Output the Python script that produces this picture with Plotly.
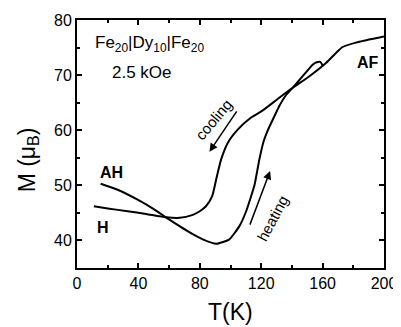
import plotly.graph_objects as go

# Cooling curve (ends in state "H")
cool_T = [11, 20, 33, 45, 58, 67, 75, 80, 84, 88, 90.7, 93.9, 98.2, 104.7, 113.4, 121,
          131.8, 140.5, 151.4, 162.2, 168.7, 173, 181.7, 200]
cool_M = [46.2, 45.8, 45.3, 44.8, 44.2, 44.1, 44.6, 45.3, 46.2, 48.0, 51.1, 54.7, 57.7, 60.1,
          62.3, 63.6, 65.9, 67.7, 69.8, 72.2, 74.0, 75.1, 75.9, 77.0]

# Heating curve (starts from state "AH")
heat_T = [15.4, 26.5, 39.5, 50, 57.9, 65, 72, 82, 90.7, 99.3, 105.8, 110.2, 115.6, 118.8,
          121.6, 124, 127.5, 131.8, 136, 140.5, 147, 153.5, 155.7, 158.5, 160.3]
heat_M = [50.3, 49.2, 47.4, 45.7, 44.2, 42.9, 41.7, 40.2, 39.4, 40.2, 42.6, 45.3, 50.0, 54.7,
          58.0, 59.8, 61.9, 64.4, 66.3, 67.7, 69.8, 71.9, 72.3, 72.4, 71.6]

x_ticks = [0, 40, 80, 120, 160, 200]
y_ticks = [40, 50, 60, 70, 80]

FONT = "Arial, Liberation Sans, sans-serif"

fig = go.Figure()
fig.add_trace(go.Scatter(x=cool_T, y=cool_M, mode="lines",
                         line=dict(color="black", width=2, shape="spline", smoothing=0.6),
                         showlegend=False))
fig.add_trace(go.Scatter(x=heat_T, y=heat_M, mode="lines",
                         line=dict(color="black", width=2, shape="spline", smoothing=0.4),
                         showlegend=False))

axis_common = dict(showline=True, linecolor="black", linewidth=2, mirror="ticks",
                   ticks="inside", ticklen=5, tickwidth=1.5, tickcolor="black",
                   showgrid=False, zeroline=False, automargin=False,
                   tickfont=dict(family=FONT, size=16, color="black"))

fig.update_xaxes(range=[0, 200], tickvals=x_ticks, ticktext=[str(v) for v in x_ticks],
                 minor=dict(dtick=20, tick0=0, ticks="inside", ticklen=3, tickwidth=1.5,
                            tickcolor="black"),
                 **axis_common)
fig.update_yaxes(range=[35, 80], tickvals=y_ticks, ticktext=[str(v) for v in y_ticks],
                 minor=dict(dtick=5, tick0=35, ticks="inside", ticklen=3, tickwidth=1.5,
                            tickcolor="black"),
                 **axis_common)

ann = []
def txt(x, y, s, size=16, angle=0, xanchor="center", bold=False, ref="data"):
    if bold:
        s = "<b>" + s + "</b>"
    d = dict(x=x, y=y, text=s, showarrow=False, textangle=angle, xanchor=xanchor,
             yanchor="middle", font=dict(family=FONT, size=size, color="black"))
    if ref == "paper":
        d.update(xref="paper", yref="paper")
    else:
        d.update(xref="x", yref="y")
    ann.append(d)

txt(10.3, 75.6, "Fe<sub>20</sub>|Dy<sub>10</sub>|Fe<sub>20</sub>", size=17, xanchor="left")
txt(42.4, 70.5, "2.5 kOe", size=17)
txt(22.3, 52.3, "AH", size=16, bold=True)
txt(17, 42.3, "H", size=16, bold=True)
txt(189.4, 72.3, "AF", size=16, bold=True)
txt(89, 61.9, "cooling", size=15, angle=-50)
txt(127.3, 44.0, "heating", size=15, angle=-62)
txt(-0.158, 0.436, "M (μ<sub>B</sub>)", size=23, angle=-90, ref="paper")
txt(0.5, -0.178, "T(K)", size=23, ref="paper")

# arrows
for (tx, ty, hx, hy) in [(104.7, 63.7, 86.3, 56.1), (112.3, 42.6, 125.8, 52.6)]:
    ann.append(dict(x=hx, y=hy, ax=tx, ay=ty, xref="x", yref="y", axref="x", ayref="y",
                    showarrow=True, arrowhead=2, arrowsize=1.1, arrowwidth=1.5,
                    arrowcolor="black", text=""))

# page body has an 8px margin, so the figure is 8px smaller and shifted
fig.update_layout(width=393, height=319, margin=dict(l=69, r=17, t=12, b=59),
                  plot_bgcolor="white", paper_bgcolor="white", annotations=ann,
                  font=dict(family=FONT, color="black"))

fig.write_html("out.html")
